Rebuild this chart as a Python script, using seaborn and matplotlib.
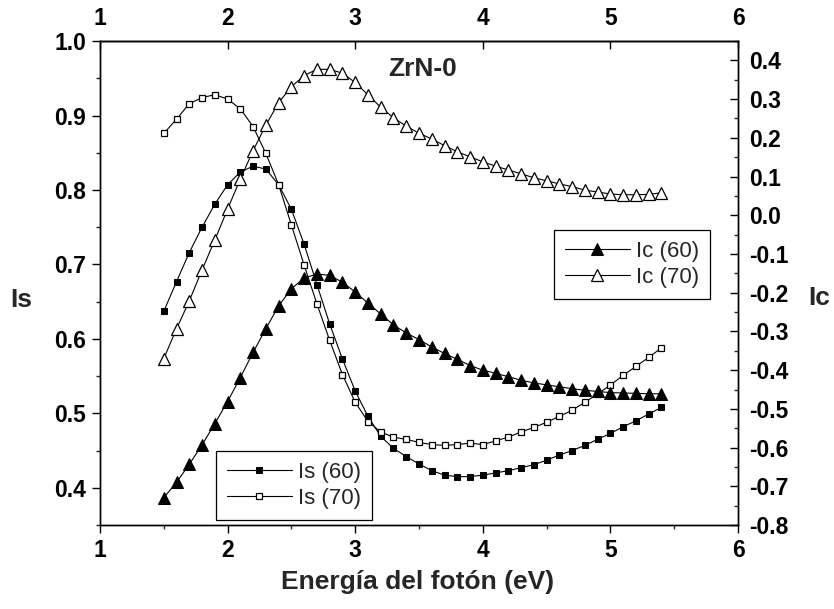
import numpy as np
import pandas as pd
import matplotlib
matplotlib.use("Agg")
import matplotlib.pyplot as plt
from matplotlib.ticker import MultipleLocator, NullLocator
import seaborn as sns

# ---- data ----
energy = [1.5, 1.6, 1.7, 1.8, 1.9, 2.0, 2.1, 2.2, 2.3, 2.4,
          2.5, 2.6, 2.7, 2.8, 2.9, 3.0, 3.1, 3.2, 3.3, 3.4,
          3.5, 3.6, 3.7, 3.8, 3.9, 4.0, 4.1, 4.2, 4.3, 4.4,
          4.5, 4.6, 4.7, 4.8, 4.9, 5.0, 5.1, 5.2, 5.3, 5.4]
is_60 = [0.637, 0.677, 0.716, 0.750, 0.781, 0.807, 0.824, 0.832, 0.828, 0.807,
         0.774, 0.727, 0.673, 0.620, 0.573, 0.530, 0.496, 0.469, 0.453, 0.442,
         0.432, 0.423, 0.417, 0.415, 0.415, 0.417, 0.420, 0.423, 0.427, 0.431,
         0.437, 0.444, 0.450, 0.457, 0.465, 0.473, 0.482, 0.490, 0.499, 0.508]
is_70 = [0.876, 0.895, 0.916, 0.924, 0.928, 0.922, 0.909, 0.885, 0.849, 0.807,
         0.753, 0.699, 0.647, 0.598, 0.552, 0.515, 0.489, 0.475, 0.468, 0.465,
         0.461, 0.458, 0.457, 0.458, 0.460, 0.458, 0.463, 0.468, 0.475, 0.481,
         0.488, 0.496, 0.504, 0.515, 0.526, 0.538, 0.551, 0.563, 0.575, 0.588]
ic_60 = [-0.729, -0.690, -0.643, -0.593, -0.538, -0.481, -0.419, -0.354, -0.293, -0.234,
         -0.190, -0.162, -0.152, -0.155, -0.173, -0.198, -0.227, -0.255, -0.283, -0.304,
         -0.321, -0.340, -0.357, -0.372, -0.388, -0.400, -0.408, -0.417, -0.426, -0.433,
         -0.438, -0.443, -0.448, -0.452, -0.455, -0.458, -0.459, -0.460, -0.461, -0.461]
ic_70 = [-0.370, -0.293, -0.221, -0.141, -0.064, 0.016, 0.094, 0.167, 0.233, 0.291,
         0.332, 0.361, 0.377, 0.377, 0.367, 0.343, 0.311, 0.279, 0.252, 0.230,
         0.212, 0.197, 0.180, 0.164, 0.151, 0.138, 0.127, 0.117, 0.107, 0.097,
         0.089, 0.081, 0.074, 0.065, 0.060, 0.055, 0.053, 0.053, 0.054, 0.058]

x_ticks = [1, 2, 3, 4, 5, 6]
is_ticks = [0.4, 0.5, 0.6, 0.7, 0.8, 0.9, 1.0]
ic_ticks = [-0.8, -0.7, -0.6, -0.5, -0.4, -0.3, -0.2, -0.1, 0.0, 0.1, 0.2, 0.3, 0.4]

title_text = "ZrN-0"
x_label = "Energía del fotón (eV)"
left_label = "Is"
right_label = "Ic"

df = pd.DataFrame({"E": energy, "Is60": is_60, "Is70": is_70,
                   "Ic60": ic_60, "Ic70": ic_70})

# ---- style ----
sns.set_theme(style="ticks")
plt.rcParams["font.family"] = ["Liberation Sans", "DejaVu Sans"]
plt.rcParams["axes.linewidth"] = 1.0

fig = plt.figure(figsize=(8.34, 6.09), dpi=100)
ax = fig.add_axes([0.1199, 0.1379, 0.765, 0.7947])
ax_r = ax.twinx()

line_kw = dict(color="black", linewidth=0.8, markeredgecolor="black")

sns.lineplot(data=df, x="E", y="Is60", ax=ax, marker="s", markersize=4.8,
             markerfacecolor="black", label="Is (60)", **line_kw)
sns.lineplot(data=df, x="E", y="Is70", ax=ax, marker="s", markersize=4.6,
             markerfacecolor="white", markeredgewidth=0.9, label="Is (70)", **line_kw)
sns.lineplot(data=df, x="E", y="Ic60", ax=ax_r, marker="^", markersize=8.8,
             markerfacecolor="black", label="Ic (60)", **line_kw)
sns.lineplot(data=df, x="E", y="Ic70", ax=ax_r, marker="^", markersize=8.8,
             markerfacecolor="white", markeredgewidth=0.9, label="Ic (70)", **line_kw)

# limits & ticks
ax.set_xlim(1, 6)
ax.set_ylim(0.35, 1.0)
ax_r.set_ylim(-0.8, 0.45)

ax.set_xticks(x_ticks)
ax.set_xticklabels([str(t) for t in x_ticks])
ax.set_yticks(is_ticks)
ax.set_yticklabels([f"{t:.1f}" for t in is_ticks])
ax_r.set_yticks(ic_ticks)
ax_r.set_yticklabels([f"{t:.1f}" for t in ic_ticks])

ax.xaxis.set_minor_locator(MultipleLocator(0.5))
ax.yaxis.set_minor_locator(MultipleLocator(0.05))
ax_r.yaxis.set_minor_locator(MultipleLocator(0.05))

tick_font = 16.5
ax.tick_params(axis="both", which="major", direction="out", length=6, width=1.0,
               labelsize=tick_font, pad=4, colors="black")
ax.tick_params(axis="both", which="minor", direction="out", length=3, width=1.0)
ax_r.tick_params(axis="y", which="major", direction="in", length=6, width=1.0,
                 labelsize=tick_font, pad=8, colors="black")
ax_r.tick_params(axis="y", which="minor", direction="in", length=3, width=1.0)
for lab in ax.get_xticklabels() + ax.get_yticklabels() + ax_r.get_yticklabels():
    lab.set_fontweight("bold")

top = ax.secondary_xaxis("top")
top.set_xticks(x_ticks)
top.set_xticklabels([str(t) for t in x_ticks])
top.xaxis.set_minor_locator(NullLocator())
top.tick_params(axis="x", which="major", direction="in", length=6, width=1.0,
                labelsize=tick_font, pad=8, colors="black")
for lab in top.get_xticklabels():
    lab.set_fontweight("bold")

for a in (ax, ax_r):
    for sp in a.spines.values():
        sp.set_color("black")
        sp.set_linewidth(1.0)

# labels
ax.set_xlabel(x_label, fontsize=19, fontweight="bold")
ax.xaxis.set_label_coords(0.498, -0.092)
ax.set_ylabel(left_label, fontsize=19, fontweight="bold", rotation=0,
              va="center", ha="center")
ax.yaxis.set_label_coords(-0.124, 0.465)
ax_r.set_ylabel(right_label, fontsize=19, fontweight="bold", rotation=0,
                va="center", ha="center")
ax_r.yaxis.set_label_coords(1.127, 0.469)

ax.text(0.505, 0.943, title_text, transform=ax.transAxes, fontsize=19,
        fontweight="bold", ha="center", va="center")

# legends
h_is, l_is = ax.get_legend_handles_labels()
h_ic, l_ic = ax_r.get_legend_handles_labels()
if ax.get_legend() is not None:
    ax.get_legend().remove()
if ax_r.get_legend() is not None:
    ax_r.get_legend().remove()

leg_kw = dict(fontsize=16, frameon=True, fancybox=False, edgecolor="black",
              handlelength=2.9, handletextpad=0.3, borderpad=0.5,
              labelspacing=0.2, borderaxespad=0.0, framealpha=1.0)
leg_ic = ax_r.legend(h_ic, l_ic, loc="upper left",
                     bbox_to_anchor=(554 / 834, 1 - 230 / 609),
                     bbox_transform=fig.transFigure, **leg_kw)
leg_ic.get_frame().set_linewidth(0.9)
ax_r.add_artist(leg_ic)
leg_is = ax_r.legend(h_is, l_is, loc="upper left",
                     bbox_to_anchor=(216 / 834, 1 - 451 / 609),
                     bbox_transform=fig.transFigure, **leg_kw)
leg_is.get_frame().set_linewidth(0.9)

fig.savefig("out.png", dpi=100, facecolor="white")
